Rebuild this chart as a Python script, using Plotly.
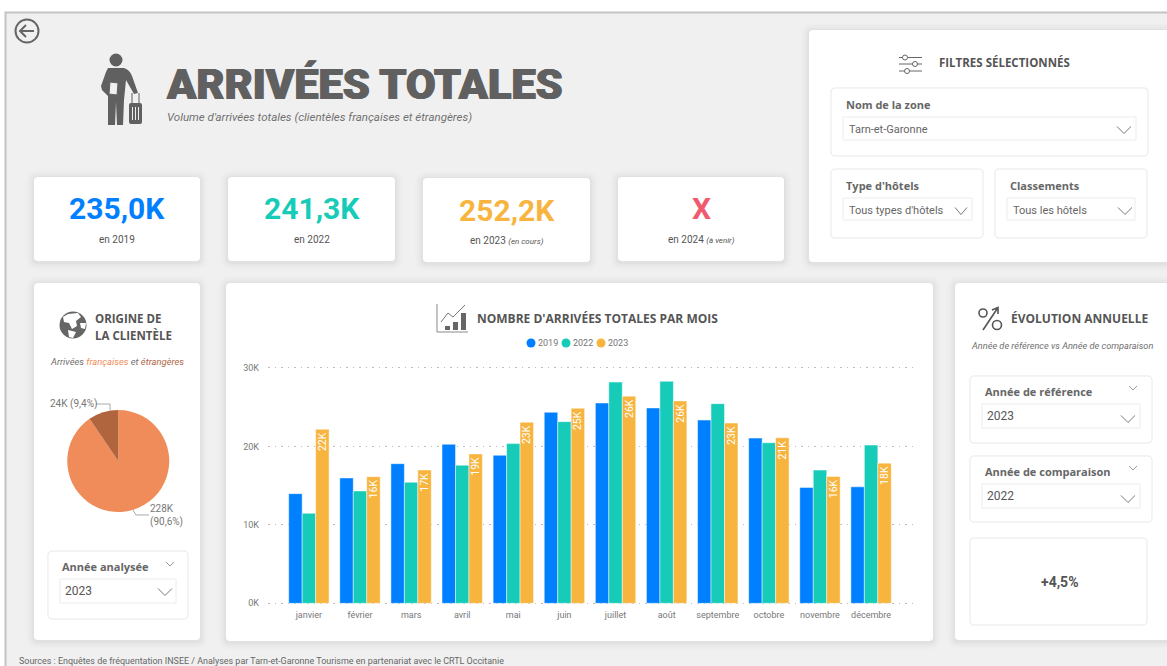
import plotly.graph_objects as go

W, H = 1167, 666

months = ["janvier", "février", "mars", "avril", "mai", "juin", "juillet", "août",
          "septembre", "octobre", "novembre", "décembre"]
arrivals_2019 = [13.98, 15.98, 17.8, 20.27, 18.87, 24.35, 25.53, 24.9, 23.36, 21.06, 14.77, 14.85]
arrivals_2022 = [11.47, 14.32, 15.43, 17.6, 20.36, 23.16, 28.2, 28.3, 25.45, 20.47, 16.98, 20.17]
arrivals_2023 = [22.18, 16.15, 17.0, 19.04, 23.08, 24.86, 26.4, 25.8, 22.98, 21.1, 16.17, 17.87]
y_ticks = [0, 10, 20, 30]
origin_labels = ["Françaises", "Étrangères"]
origin_values = [228, 24]
origin_texts = ["228K<br>(90,6%)", "24K (9,4%)"]
kpi_values = ["235,0K", "241,3K", "252,2K", "X"]
legend_years = ["2019", "2022", "2023"]

BLUE, TEAL, ORANGE, RED = "#0080ff", "#16ccb8", "#f7b53f", "#ef5a6f"
PIE_A, PIE_B = "#f08c5a", "#b0653f"
GREY = "#606060"
BODY = "Roboto"
HEAD = "Open Sans"

shapes, notes = [], []
def X(p): return p / W
def Y(p): return 1 - p / H

def P(*cmds):
    out = []
    for c in cmds:
        if isinstance(c, str):
            out.append(c)
        else:
            out.append(f"{X(c[0]):.5f},{Y(c[1]):.5f}")
    return " ".join(out)

def path(d, fill=None, line=None, lw=1):
    s = dict(type="path", xref="paper", yref="paper", path=d, layer="below",
             line=dict(color=line if line else "rgba(0,0,0,0)", width=lw if line else 0))
    if fill:
        s["fillcolor"] = fill
    shapes.append(s)

def rrect(x0, y0, x1, y1, r=4, fill="#ffffff", line=None, lw=1):
    d = P("M", (x0 + r, y0), "L", (x1 - r, y0), "Q", (x1, y0), (x1, y0 + r),
          "L", (x1, y1 - r), "Q", (x1, y1), (x1 - r, y1),
          "L", (x0 + r, y1), "Q", (x0, y1), (x0, y1 - r),
          "L", (x0, y0 + r), "Q", (x0, y0), (x0 + r, y0), "Z")
    path(d, fill, line, lw)

def card(x0, y0, x1, y1):
    for grow, a in ((8, .008), (6, .012), (4, .016), (2, .022)):
        rrect(x0 - grow, y0 - grow + 1, x1 + grow, y1 + grow + 1, 4 + grow, fill=f"rgba(0,0,0,{a})")
    rrect(x0, y0, x1, y1, 4)

def box(x0, y0, x1, y1, r=4):
    rrect(x0, y0, x1, y1, r, fill="#ffffff", line="#e8e8e8", lw=1)

def dropdown(x0, y0, x1, y1):
    shapes.append(dict(type="rect", xref="paper", yref="paper", layer="below",
                       x0=X(x0), x1=X(x1), y0=Y(y0), y1=Y(y1), fillcolor="#ffffff",
                       line=dict(color="#ececec", width=1)))

def chevron(cx, cy, w=7, h=3.5, color="#777777", lw=1):
    path(P("M", (cx - w, cy - h), "L", (cx, cy + h), "L", (cx + w, cy - h)), None, color, lw)

def text(x, y, s, size=10, color="#666666", font=BODY, anchor="left", weight=None, va="middle", shadow=None):
    f = dict(size=size, color=color, family=font)
    if weight:
        f["weight"] = weight
    if shadow:
        f["shadow"] = shadow
    notes.append(dict(xref="paper", yref="paper", x=X(x), y=Y(y), text=s, showarrow=False,
                      xanchor=anchor, yanchor=va, font=f, align="left" if anchor == "left" else "center",
                      borderpad=0, borderwidth=0))

def circle(cx, cy, r, fill=None, line=None, lw=1):
    s = dict(type="circle", xref="paper", yref="paper", layer="below",
             x0=X(cx - r), x1=X(cx + r), y0=Y(cy + r), y1=Y(cy - r),
             line=dict(color=line if line else "rgba(0,0,0,0)", width=lw if line else 0))
    if fill:
        s["fillcolor"] = fill
    shapes.append(s)

# ------- page background and frame
shapes.append(dict(type="rect", xref="paper", yref="paper", layer="below", x0=X(5), x1=1, y0=0, y1=Y(12),
                   fillcolor="#f0f0f0", line=dict(width=0)))
path(P("M", (5.5, 666), "L", (5.5, 12.5), "L", (1167, 12.5)), None, "#c4c4c4", 2)

# ------- back arrow
circle(27, 31, 11.5, None, "#666666", 2)
path(P("M", (34, 31), "L", (20, 31), "M", (26, 25), "L", (20, 31), "L", (26, 37)), None, "#666666", 2)

# ------- traveller icon
circle(116, 60, 6.5, GREY)
path(P("M", (108, 68), "L", (124, 68), "Q", (130, 70), (132, 76), "L", (138, 93), "L", (134, 94),
       "L", (126, 80), "L", (124, 100), "L", (123, 125), "L", (117, 125), "L", (116, 102), "L", (115, 125),
       "L", (108, 125), "L", (108, 96), "L", (102, 90), "L", (101, 86), "L", (106, 72), "Z"), GREY)
path(P("M", (110, 82), "L", (118, 83), "L", (117, 95), "L", (109, 94), "Z"), "#f0f0f0", GREY, 1)
rrect(129, 103, 142, 124, 2, fill=GREY)
path(P("M", (132, 103), "L", (132, 93), "M", (139, 103), "L", (139, 93)), None, GREY, 1)
path(P("M", (132.5, 107), "L", (132.5, 120), "M", (135.5, 107), "L", (135.5, 120), "M", (138.5, 107), "L", (138.5, 120)),
     None, "#f0f0f0", 1)

# ------- title
text(166, 85, "ARRIVÉES TOTALES", 43.2, GREY, BODY, weight=900, shadow="0.7px 0 0 #606060, -0.7px 0 0 #606060")
text(167, 117, "<i>Volume d'arrivées totales (clientèles françaises et étrangères)</i>", 11.5, "#707070")

# ------- KPI cards
kpis = [(34, 200, 177, 261, BLUE, "en 2019"),
        (228, 395, 177, 261, TEAL, "en 2022"),
        (423, 590, 178, 262, ORANGE, "en 2023 <i style='font-size:8px'>(en cours)</i>"),
        (618, 784, 177, 261, RED, "en 2024 <i style='font-size:8px'>(à venir)</i>")]
for (x0, x1, y0, y1, col, sub), val in zip(kpis, kpi_values):
    card(x0, y0, x1, y1)
    text((x0 + x1) / 2, y0 + 32, val, 30, col, BODY, "center", weight=700)
    text((x0 + x1) / 2, y0 + 62.5, sub, 10, "#555555", BODY, "center")

# ------- filters panel
card(809, 30, 1175, 262)
for yy in (57.5, 64, 71):
    path(P("M", (899, yy), "L", (922, yy)), None, "#666666", 1)
for cx, cy in ((905, 57.5), (915, 64), (907, 71)):
    circle(cx, cy, 2.5, "#ffffff", "#666666", 1)
text(939, 62, "FILTRES SÉLECTIONNÉS", 11.5, "#555555", HEAD, weight=700)
box(831, 88, 1148, 156)
box(831, 169, 983, 238)
box(995, 169, 1147, 238)
text(846, 104, "Nom de la zone", 11, "#666666", HEAD, weight=700)
text(846, 185, "Type d'hôtels", 11, "#666666", HEAD, weight=700)
text(1010, 185, "Classements", 11, "#666666", HEAD, weight=700)
dropdown(843, 117, 1136, 140)
dropdown(843, 198, 972, 220)
dropdown(1007, 198, 1135, 220)
text(849, 129, "Tarn-et-Garonne", 11, "#666666")
text(849, 210, "Tous types d'hôtels", 11, "#666666")
text(1013, 210, "Tous les hôtels", 11, "#666666")
chevron(1124, 130)
chevron(961, 211, 6)
chevron(1125, 211)

# ------- origin card
card(34, 283, 200, 640)
circle(73, 325, 13.5, "#666666")
path(P("M", (68, 314), "L", (78, 313), "L", (81, 317), "L", (76, 321), "L", (77, 326), "L", (72, 329),
       "L", (69, 323), "L", (64, 322), "L", (63, 317), "Z"), "#ffffff")
path(P("M", (68, 330), "L", (76, 332), "L", (73, 338), "L", (69, 337), "Z"), "#ffffff")
path(P("M", (80, 323), "L", (86, 323), "L", (85, 329), "L", (81, 328), "Z"), "#ffffff")
text(95, 319, "ORIGINE DE", 11.5, "#555555", HEAD, weight=700)
text(95, 335, "LA CLIENTÈLE", 11.5, "#555555", HEAD, weight=700)
text(117, 361, f"<i>Arrivées <span style='color:{PIE_A}'>françaises</span> et "
               f"<span style='color:{PIE_B}'>étrangères</span></i>", 9.4, "#707070", BODY, "center")
text(50, 404, origin_texts[1], 10, "#777777")
text(150, 515.5, origin_texts[0], 10, "#777777")
path(P("M", (96, 404), "L", (110, 404), "L", (110, 410)), None, "#aaaaaa", 1)
path(P("M", (133, 510), "L", (136, 515), "L", (149, 515)), None, "#aaaaaa", 1)
box(48, 551, 188, 619)
text(62, 566, "Année analysée", 11, "#666666", HEAD, weight=700)
chevron(170, 564, 4, 2, "#999999")
dropdown(60, 579, 176, 603)
text(65, 591, "2023", 12, "#555555")
chevron(165, 592)

# ------- chart card
card(226, 283, 933, 641)
path(P("M", (437, 304), "L", (437, 332), "L", (468, 332)), None, "#888888", 1)
path(P("M", (441, 322), "L", (448, 313), "L", (453, 317), "L", (465, 305)), None, "#777777", 1)
for x0, top in ((445, 326), (453, 322), (461, 313)):
    shapes.append(dict(type="rect", xref="paper", yref="paper", layer="below", x0=X(x0), x1=X(x0 + 5),
                       y0=Y(330), y1=Y(top), fillcolor="#666666", line=dict(width=0)))
text(477, 319, "NOMBRE D'ARRIVÉES TOTALES PAR MOIS", 12, "#555555", HEAD, weight=700)
for year, lx, col in zip(legend_years, (531, 566, 601), (BLUE, TEAL, ORANGE)):
    circle(lx, 343, 4.5, col)
    text(lx + 7, 343, year, 9, "#777777")

# ------- evolution card
card(955, 283, 1175, 640)
circle(983, 313, 4, None, "#555555", 1.6)
circle(997, 325, 4.5, None, "#555555", 1.6)
path(P("M", (983, 330), "L", (997, 309), "M", (992, 310), "L", (998, 307.5), "L", (998, 314)), None, "#555555", 1.6)
text(1011, 319, "ÉVOLUTION ANNUELLE", 12, "#555555", HEAD, weight=700)
text(1062, 346, "<i>Année de référence vs Année de comparaison</i>", 9.2, "#707070", BODY, "center")
box(970, 376, 1152, 443)
text(985, 391, "Année de référence", 11, "#666666", HEAD, weight=700)
chevron(1133, 388, 4, 2, "#999999")
dropdown(982, 404, 1140, 428)
text(987, 416, "2023", 12, "#555555")
chevron(1128, 419)
box(970, 456, 1152, 522)
text(985, 471, "Année de comparaison", 11, "#666666", HEAD, weight=700)
chevron(1133, 468, 4, 2, "#999999")
dropdown(982, 484, 1140, 508)
text(987, 496, "2022", 12, "#555555")
chevron(1128, 499)
box(970, 538, 1147, 625)
text(1060, 582, "+4,5%", 14, "#555555", BODY, "center", weight=700)

# ------- footer
text(19, 661, "Sources : Enquêtes de fréquentation INSEE / Analyses par Tarn-et-Garonne Tourisme "
              "en partenariat avec le CRTL Occitanie", 8.95, "#666666")

# ------- traces
fig = go.Figure()
edge = dict(color="rgba(255,255,255,0.45)", width=1)
fig.add_bar(x=months, y=arrivals_2019, name="2019", marker=dict(color=BLUE, line=edge), hoverinfo="skip")
fig.add_bar(x=months, y=arrivals_2022, name="2022", marker=dict(color=TEAL, line=edge), hoverinfo="skip")
fig.add_bar(x=months, y=arrivals_2023, name="2023", marker=dict(color=ORANGE, line=edge), hoverinfo="skip",
            texttemplate="%{y:.0f}K", textposition="inside", insidetextanchor="end", textangle=-90,
            insidetextfont=dict(color="#ffffff", size=10.5, family=BODY), constraintext="none")
fig.add_pie(labels=origin_labels, values=origin_values, sort=False, direction="clockwise", rotation=0,
            marker=dict(colors=[PIE_A, PIE_B]), textinfo="none", hoverinfo="skip",
            domain=dict(x=[X(67), X(169.5)], y=[Y(512), Y(410)]))

fig.update_layout(
    width=W, height=H, autosize=False, margin=dict(l=0, r=0, t=0, b=0, autoexpand=False),
    paper_bgcolor="#ffffff", plot_bgcolor="rgba(0,0,0,0)", showlegend=False,
    barmode="group", bargap=0.21, bargroupgap=0,
    font=dict(family=BODY, color="#777777", size=9),
    shapes=shapes, annotations=notes,
    xaxis=dict(domain=[X(268), X(913)], range=[-0.8, 11.82], showgrid=False, zeroline=False, showline=False,
               anchor="y", ticks="", tickfont=dict(size=9, color="#777777"), fixedrange=True,
               ticklabelstandoff=3),
    yaxis=dict(domain=[Y(604.9), Y(366.4)], range=[-0.2, 30.2], tickvals=y_ticks,
               ticktext=[f"{v}K" for v in y_ticks],
               showgrid=True, gridcolor="#bdbdbd", griddash="1.5px,5px", gridwidth=1, zeroline=False, showline=False,
               tickfont=dict(size=9, color="#777777"), ticks="", ticklabelstandoff=8, fixedrange=True),
)
fig.write_html("out.html", config=dict(displayModeBar=False),
               post_script="document.body.style.margin='0';document.body.style.overflow='hidden';")
